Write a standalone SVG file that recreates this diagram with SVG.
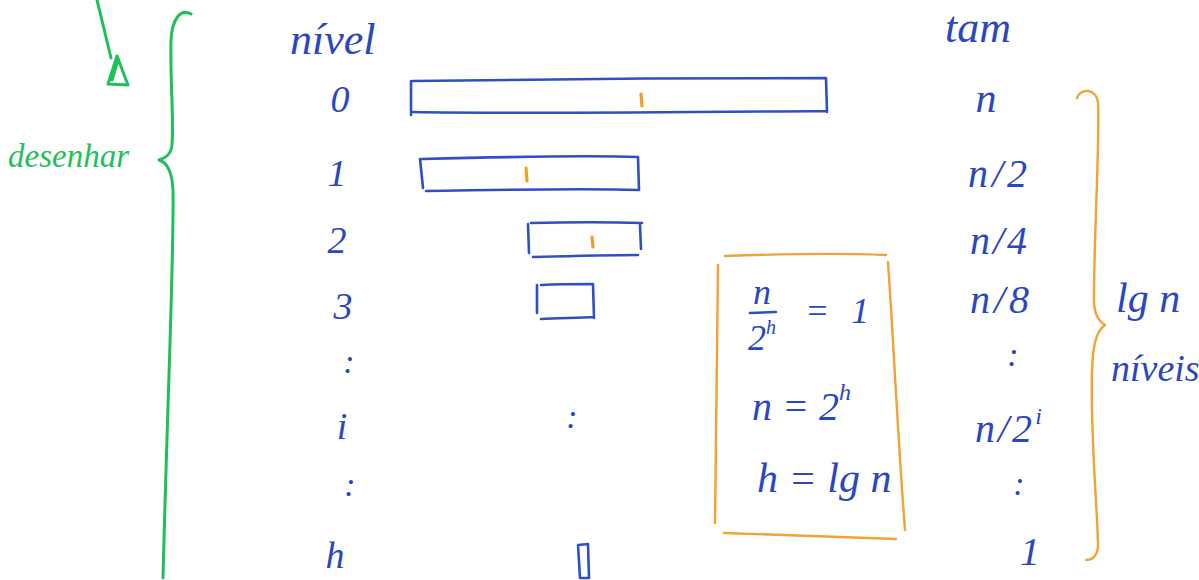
<svg xmlns="http://www.w3.org/2000/svg" width="1199" height="580" viewBox="0 0 1199 580">
<style>
.b{fill:none;stroke:#2f4fc4;stroke-width:2.6;stroke-linecap:round;stroke-linejoin:round}
.o{fill:none;stroke:#f2a236;stroke-width:2.4;stroke-linecap:round;stroke-linejoin:round}
.ot{fill:none;stroke:#f0a020;stroke-width:3.2;stroke-linecap:round}
.g{fill:none;stroke:#1fc05a;stroke-width:3;stroke-linecap:round;stroke-linejoin:round}
.t{font-family:"Liberation Serif",serif;font-style:italic;fill:#2a46c0;font-size:34px}
.d{font-size:38px}
.c{text-anchor:middle}
.gt{font-family:"Liberation Serif",serif;font-style:italic;fill:#1fc05a;font-size:33px}
</style>
<rect width="1199" height="580" fill="#ffffff"/>
<g id="annot-green">
<path class="g" d="M97,0 L111,58"/>
<path class="g" d="M117,56 L128,85 L108,84 Z M112,80 L118,60"/>
<path class="g" d="M191,14 C180,8 172,20 171,40 C170,80 174,120 172,145 C171,155 165,158 159,160 C166,162 172,170 173,190 C174,260 168,380 163,578"/>
<text class="gt" x="8" y="167">desenhar</text>
</g>
<g id="col-nivel">
<text class="t" x="290" y="54" style="font-size:44px">nível</text>
<text class="t d c" x="340" y="112">0</text>
<text class="t d c" x="337" y="186">1</text>
<text class="t d c" x="337" y="253">2</text>
<text class="t d c" x="343" y="319">3</text>
<text class="t c" x="349" y="373">:</text>
<text class="t d c" x="342" y="439">i</text>
<text class="t c" x="350" y="496">:</text>
<text class="t d c" x="335" y="568">h</text>
</g>
<g id="bar0">
<path class="b" d="M411,81 L411,115 M413,81 C520,79 700,78 826,78 L827,112 M413,112 C520,114 700,112 827,111"/>
<path class="ot" d="M641,94 L642,106"/>
</g>
<g id="bar1">
<path class="b" d="M420,159 L423,188 M422,159 C500,157 580,155 638,157 L639,190 M426,191 C500,190 580,188 638,190"/>
<path class="ot" d="M526,168 L527,181"/>
</g>
<g id="bar2">
<path class="b" d="M528,224 L529,253 M531,223 C570,222 610,222 642,223 M640,225 L641,249 M533,257 C570,256 610,255 638,255"/>
<path class="ot" d="M592,237 L593,247"/>
</g>
<g id="bar3">
<path class="b" d="M537,285 L537,313 M541,285 C560,284 580,284 593,284 L594,318 M541,319 C560,318 580,318 594,317"/>
</g>
<g id="dots-mid">
<text class="t c" x="572" y="428">:</text>
</g>
<g id="barh">
<path class="b" d="M578,545 L588,544 L589,578 L580,578 Z"/>
</g>
<g id="box-eq">
<path class="o" d="M725,256 C780,254 840,253 886,255 M888,262 C894,350 898,440 905,530 M718,265 C717,350 716,440 715,523 M724,533 C790,535 850,537 896,539"/>
<text class="t c" x="762" y="304" style="font-size:36px">n</text>
<path class="b" d="M750,313 L776,312"/>
<text class="t" x="748" y="350" style="font-size:36px">2<tspan font-size="20" dy="-16">h</tspan></text>
<text class="t" x="805" y="323" style="font-size:36px">=<tspan dx="22">1</tspan></text>
<text class="t" x="752" y="420" style="font-size:40px">n = 2<tspan font-size="24" dy="-20">h</tspan></text>
<text class="t" x="757" y="492" style="font-size:42px">h = lg n</text>
</g>
<g id="col-tam">
<text class="t" x="945" y="42" style="font-size:44px">tam</text>
<text class="t c" x="986" y="112" style="font-size:42px">n</text>
<text class="t" x="968" y="187" style="font-size:40px;letter-spacing:4px">n/2</text>
<text class="t" x="970" y="254" style="font-size:40px;letter-spacing:3px">n/4</text>
<text class="t" x="970" y="313" style="font-size:40px;letter-spacing:4px">n/8</text>
<text class="t c" x="1013" y="366">:</text>
<text class="t" x="975" y="442" style="font-size:40px;letter-spacing:3px">n/2<tspan font-size="24" dy="-18">i</tspan></text>
<text class="t c" x="1019" y="495">:</text>
<text class="t c" x="1030" y="565" style="font-size:40px">1</text>
</g>
<g id="brace-lgn">
<path class="o" d="M1077,98 C1080,88 1096,88 1098,102 C1100,140 1094,230 1094,300 C1094,315 1100,322 1105,325 C1098,330 1093,340 1092,370 C1090,430 1098,520 1098,545 C1098,556 1092,560 1086,560"/>
<text class="t" x="1116" y="312" style="font-size:42px">lg n</text>
<text class="t" x="1111" y="381" style="font-size:38px">níveis</text>
</g>
</svg>
